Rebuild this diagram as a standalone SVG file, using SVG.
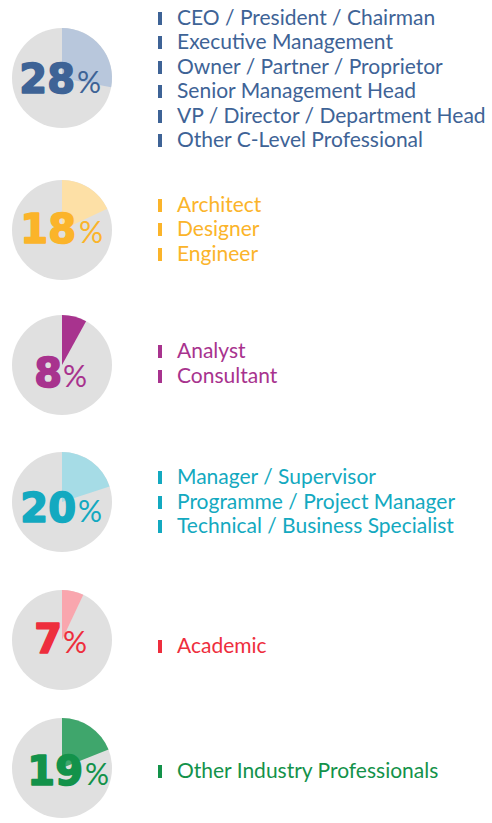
<svg xmlns="http://www.w3.org/2000/svg" width="492" height="823" viewBox="0 0 492 823">
<style>
.bg{fill:#e0e0e0}
.lbl{font-family:Lato,"Open Sans","Liberation Sans",sans-serif;font-size:21px}
.num{font-family:"DejaVu Sans","Liberation Sans",sans-serif;font-size:40px;font-weight:700;text-anchor:end;stroke-width:1.6;stroke-linejoin:round}
.pct{font-family:Lato,"Open Sans","Liberation Sans",sans-serif;font-size:30px;font-weight:400}
.blue{fill:#3e6396}.orange{fill:#fbb42a}.purple{fill:#a8338e}.teal{fill:#13a9c0}.red{fill:#ee2e3d}.green{fill:#13924a}
.num.blue{stroke:#3e6396}.num.orange{stroke:#fbb42a}.num.purple{stroke:#a8338e}.num.teal{stroke:#13a9c0}.num.red{stroke:#ee2e3d}.num.green{stroke:#13924a}
</style>
<rect width="492" height="823" fill="#ffffff"/>
<g id="pie-28">
<circle class="bg" cx="62" cy="78" r="50"/>
<path d="M62 78 L62 28 A50 50 0 0 1 111.12 87.37 Z" fill="#b8c7dc"/>
<text class="num blue" x="75" y="93">28</text><text class="pct blue" x="77" y="93">%</text>
</g>
<g id="list-28" class="blue">
<rect x="158" y="12" width="4" height="13"/><text class="lbl" x="177" y="25">CEO / President / Chairman</text>
<rect x="158" y="36" width="4" height="13"/><text class="lbl" x="177" y="49">Executive Management</text>
<rect x="158" y="61" width="4" height="13"/><text class="lbl" x="177" y="74">Owner / Partner / Proprietor</text>
<rect x="158" y="85" width="4" height="13"/><text class="lbl" x="177" y="98">Senior Management Head</text>
<rect x="158" y="110" width="4" height="13"/><text class="lbl" x="177" y="123">VP / Director / Department Head</text>
<rect x="158" y="134" width="4" height="13"/><text class="lbl" x="177" y="147">Other C-Level Professional</text>
</g>
<g id="pie-18">
<circle class="bg" cx="62" cy="230" r="50"/>
<path d="M62 230 L62 180 A50 50 0 0 1 107.24 208.71 Z" fill="#fde0a6"/>
<text class="num orange" x="76" y="243">18</text><text class="pct orange" x="79" y="243">%</text>
</g>
<g id="list-18" class="orange">
<rect x="158" y="199" width="4" height="13"/><text class="lbl" x="177" y="212">Architect</text>
<rect x="158" y="223" width="4" height="13"/><text class="lbl" x="177" y="236">Designer</text>
<rect x="158" y="248" width="4" height="13"/><text class="lbl" x="177" y="261">Engineer</text>
</g>
<g id="pie-8">
<circle class="bg" cx="62" cy="365" r="50"/>
<path d="M62 365 L62 315 A50 50 0 0 1 86.09 321.18 Z" fill="#a8338e"/>
<text class="num purple" x="62" y="387">8</text><text class="pct purple" x="63" y="387">%</text>
</g>
<g id="list-8" class="purple">
<rect x="158" y="345" width="4" height="13"/><text class="lbl" x="177" y="358">Analyst</text>
<rect x="158" y="370" width="4" height="13"/><text class="lbl" x="177" y="383">Consultant</text>
</g>
<g id="pie-20">
<circle class="bg" cx="62" cy="502" r="50"/>
<path d="M62 502 L62 452 A50 50 0 0 1 109.55 486.55 Z" fill="#a6dce6"/>
<text class="num teal" x="76" y="522">20</text><text class="pct teal" x="78" y="522">%</text>
</g>
<g id="list-20" class="teal">
<rect x="158" y="471" width="4" height="13"/><text class="lbl" x="177" y="484">Manager / Supervisor</text>
<rect x="158" y="496" width="4" height="13"/><text class="lbl" x="177" y="509">Programme / Project Manager</text>
<rect x="158" y="520" width="4" height="13"/><text class="lbl" x="177" y="533">Technical / Business Specialist</text>
</g>
<g id="pie-7">
<circle class="bg" cx="62" cy="640" r="50"/>
<path d="M62 640 L62 590 A50 50 0 0 1 83.29 594.76 Z" fill="#f9a6ae"/>
<text class="num red" x="62" y="653">7</text><text class="pct red" x="63" y="653">%</text>
</g>
<g id="list-7" class="red">
<rect x="158" y="640" width="4" height="13"/><text class="lbl" x="177" y="653">Academic</text>
</g>
<g id="pie-19">
<circle class="bg" cx="62" cy="768" r="50"/>
<path d="M62 768 L62 718 A50 50 0 0 1 108.49 749.6 Z" fill="#3fa66c"/>
<text class="num green" x="83" y="785">19</text><text class="pct green" x="85" y="785">%</text>
</g>
<g id="list-19" class="green">
<rect x="158" y="765" width="4" height="13"/><text class="lbl" x="177" y="778">Other Industry Professionals</text>
</g>
</svg>
